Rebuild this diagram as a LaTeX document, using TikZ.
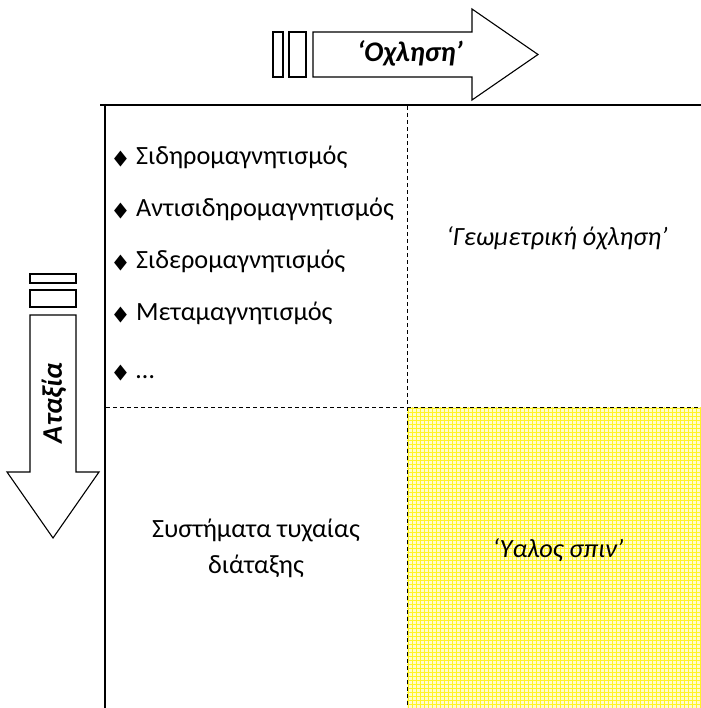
\documentclass[tikz,border=0pt]{standalone}
\usepackage{fontspec}
\setmainfont{Carlito}
\newfontfamily\symfont{DejaVu Sans}
\newcommand{\itembullet}{\makebox[22bp][l]{\raisebox{0bp}{\symfont\fontsize{21}{21}\selectfont\scalebox{0.8}[1]{◆}}}}
\begin{document}
\begin{tikzpicture}[x=1bp, y=-1bp,
  frame/.style={line width=2bp},
  divider/.style={line width=1bp, dash pattern=on 4bp off 3bp},
  outline/.style={line width=1.1bp, fill=white, line join=miter},
  item/.style={anchor=base west, inner sep=0pt, font=\fontsize{26.4}{30}\selectfont},
  label/.style={inner sep=0pt, font=\fontsize{26.4}{30}\selectfont},
  arrowtext/.style={inner sep=0pt, font=\bfseries\itshape\fontsize{28.5}{32}\selectfont}]
\useasboundingbox (0,0) rectangle (701,708);

% shaded quadrant
\fill[yellow!20] (407,407) rectangle (701,708);
\begin{scope}
  \clip (407,407) rectangle (701,708);
  \draw[yellow!85, line width=0.8bp, step=4bp] (400,400) grid (705,712);
\end{scope}

% frame and dividers
\draw[frame] (100,105) -- (701,105);
\draw[frame] (104.5,104) -- (104.5,708);
\draw[divider] (407.5,106) -- (407.5,708);
\draw[divider] (106,407.5) -- (701,407.5);

% horizontal arrow
\draw[outline] (273,32) rectangle (283,77);
\draw[outline] (289,32) rectangle (306,77);
\draw[outline] (313,32) -- (472,32) -- (472,9) -- (538,54.5) -- (472,100) -- (472,77) -- (313,77) -- cycle;
\node[arrowtext] (ochl) at (410,53) {‘Οχληση’};

% vertical arrow
\draw[outline] (30,274) rectangle (76,283);
\draw[outline] (30,290) rectangle (76,307);
\draw[outline] (30,315) -- (76,315) -- (76,472) -- (99,472) -- (53,538) -- (7,472) -- (30,472) -- cycle;
\node[arrowtext, rotate=90] (atax) at (54,403) {Αταξία};

% list of ordered states
\node[item] (i1) at (114,164) {\itembullet Σιδηρομαγνητισμός};
\node[item] (i2) at (114,216) {\itembullet Αντισιδηρομαγνητισμός};
\node[item] (i3) at (114,268) {\itembullet Σιδερομαγνητισμός};
\node[item] (i4) at (114,320) {\itembullet Μεταμαγνητισμός};
\node[item] (i5) at (114,378) {\itembullet …};

% quadrant labels
\node[label, anchor=base] (geom) at (557,245) {\itshape ‘Γεωμετρική όχληση’};
\node[label, anchor=base] (rand1) at (256,537) {Συστήματα τυχαίας};
\node[label, anchor=base] (rand2) at (256,573) {διάταξης};
\node[label, anchor=base] (glass) at (558,557) {\itshape ‘Υαλος σπιν’};
\end{tikzpicture}
\end{document}
